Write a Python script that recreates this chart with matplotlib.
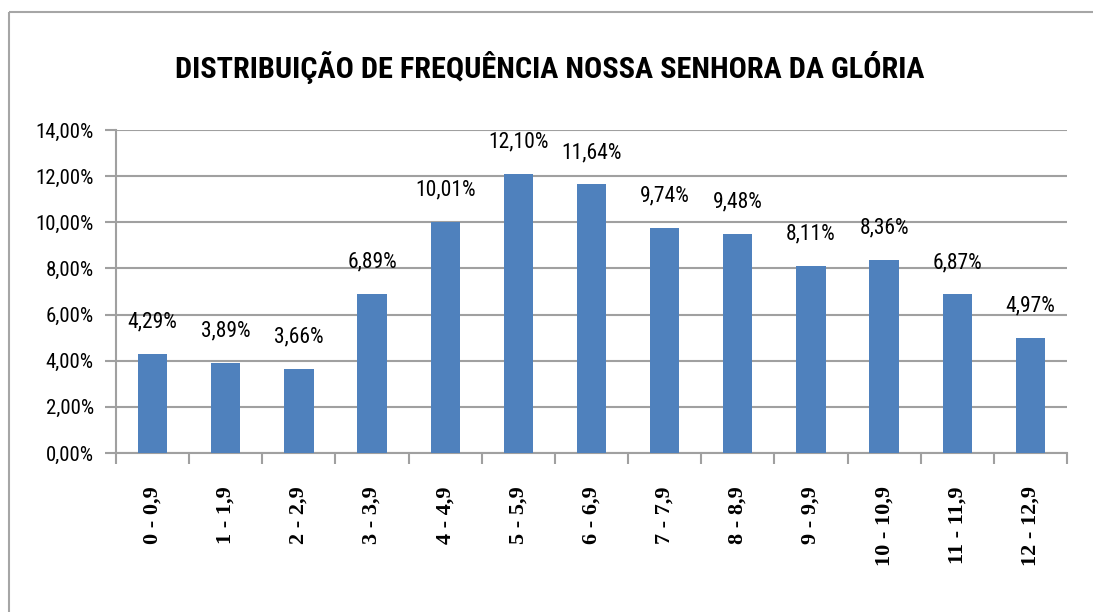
import matplotlib
matplotlib.use("Agg")
import matplotlib.pyplot as plt
from matplotlib import font_manager as fm
from matplotlib.lines import Line2D

categories = ["0 - 0,9", "1 - 1,9", "2 - 2,9", "3 - 3,9", "4 - 4,9", "5 - 5,9",
              "6 - 6,9", "7 - 7,9", "8 - 8,9", "9 - 9,9", "10 - 10,9", "11 - 11,9", "12 - 12,9"]
values = [4.29, 3.89, 3.66, 6.89, 10.01, 12.10, 11.64, 9.74, 9.48, 8.11, 8.36, 6.87, 4.97]
yticks = [0, 2, 4, 6, 8, 10, 12, 14]
title = "DISTRIBUIÇÃO DE FREQUÊNCIA NOSSA SENHORA DA GLÓRIA"

names = {f.name for f in fm.fontManager.ttflist}
narrow = next((n for n in ["Liberation Sans Narrow", "Roboto Condensed", "DejaVu Sans Condensed",
                           "Liberation Sans"] if n in names), "DejaVu Sans")
serif = next((n for n in ["Liberation Serif", "DejaVu Serif"] if n in names), "serif")

def fmt(v):
    return f"{v:.2f}".replace(".", ",") + "%"

fig = plt.figure(figsize=(10.93, 6.12), dpi=100)
fig.patch.set_facecolor("white")
# chart border (top and left visible)
fig.add_artist(Line2D([9/1093, 1.0], [1-12/612, 1-12/612], color="#a6a6a6", lw=1.5,
                      transform=fig.transFigure, solid_capstyle="butt"))
fig.add_artist(Line2D([9/1093, 9/1093], [0.0, 1-12/612], color="#a6a6a6", lw=1.5,
                      transform=fig.transFigure, solid_capstyle="butt"))

ax = fig.add_axes([116/1093, 1-453/612, (1067-116)/1093, (453-130)/612])
x = list(range(len(categories)))
ax.bar(x, values, width=0.4, color="#4F81BD", zorder=3)
ax.set_xlim(-0.5, len(categories)-0.5)
ax.set_ylim(0, 14)
ax.set_yticks(yticks)
ax.set_yticklabels([fmt(v) for v in yticks], fontfamily=narrow, fontsize=15)
ax.yaxis.grid(True, color="#a0a0a0", lw=1.5, zorder=0)
ax.tick_params(axis="y", length=8, width=1.5, color="#a0a0a0", pad=8, direction="out")

ax.set_xticks(x)
ax.set_xticklabels(categories, rotation=90, fontfamily=serif, fontweight="bold", fontsize=16,
                   ha="center", va="top")
ax.tick_params(axis="x", which="major", length=0, pad=24)
ax.set_xticks([i - 0.5 for i in range(len(categories)+1)], minor=True)
ax.tick_params(axis="x", which="minor", length=8, width=1.5, color="#a0a0a0", direction="out")

for s in ["top", "right"]:
    ax.spines[s].set_visible(False)
for s in ["left", "bottom"]:
    ax.spines[s].set_color("#a0a0a0")
    ax.spines[s].set_linewidth(1.5)

for xi, v in zip(x, values):
    ax.annotate(fmt(v), (xi, v), xytext=(0, 23), textcoords="offset points",
                ha="center", va="center", fontfamily=narrow, fontsize=15.5)

fig.text(550/1093, 1-67/612, title, ha="center", va="center", fontfamily=narrow,
         fontweight="bold", fontsize=21.8)

fig.savefig("out.png", dpi=100, facecolor="white")
